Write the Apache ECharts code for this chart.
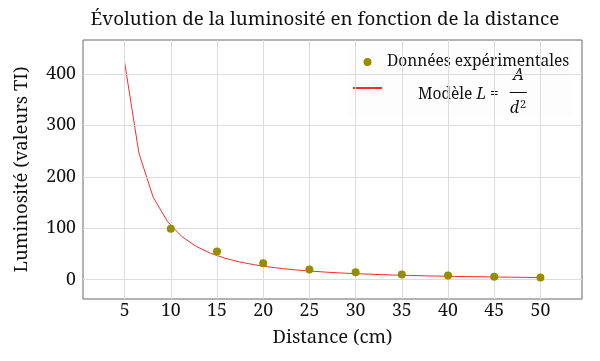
<!DOCTYPE html>
<html>
<head>
<meta charset="utf-8">
<script src="https://cdn.jsdelivr.net/npm/echarts@6/dist/echarts.min.js"></script>
<style>html,body{margin:0;padding:0;background:#fff;}#c{width:600px;height:361px;}</style>
</head>
<body>
<div id="c"></div>
<script>
// Experimental data
const distances = [10, 15, 20, 25, 30, 35, 40, 45, 50];
const luminosite = [99, 55, 32, 20, 14.5, 10, 8, 5.5, 4];
// Model curve samples
const modelX = [5, 6.55, 8.10, 9.66, 11.21, 12.76, 14.31, 15.86, 17.41, 18.97, 20.52, 22.07, 23.62, 25.17, 26.72, 28.28, 29.83, 31.38, 32.93, 34.48, 36.03, 37.59, 39.14, 40.69, 42.24, 43.79, 45.34, 46.90, 48.45, 50];
const modelY = [423, 246, 160, 112.6, 83.6, 64.5, 51.3, 41.7, 34.6, 29.2, 24.9, 21.6, 18.8, 16.6, 14.7, 13.1, 11.8, 10.7, 9.7, 8.8, 8.1, 7.4, 6.9, 6.3, 5.9, 5.5, 5.1, 4.8, 4.5, 4.2];
const xTicks = [5, 10, 15, 20, 25, 30, 35, 40, 45, 50];
const yTicks = [0, 100, 200, 300, 400];

const FONT = '"Noto Serif", "DejaVu Serif", serif';
const TXT = '#111';
const LF = 15.5;
const chart = echarts.init(document.getElementById('c'), null, {renderer: 'canvas'});
const nameData = 'Données expérimentales';
const nameModel = 'Modèle';
const GRID = '#dcdcdc';

chart.setOption({
  animation: false,
  textStyle: {fontFamily: FONT, color: TXT},
  title: {
    text: 'Évolution de la luminosité en fonction de la distance',
    left: 320, top: 5, textAlign: 'center',
    textStyle: {fontFamily: FONT, fontSize: 18.8, fontWeight: 'normal', color: TXT}
  },
  grid: {left: 83, top: 40, width: 499, height: 259, show: true, borderColor: '#666', borderWidth: 1, backgroundColor: 'transparent'},
  legend: {
    orient: 'vertical', left: 348, top: 48,
    padding: [4, 2, 0, 4], itemGap: -8,
    backgroundColor: 'rgba(253,253,253,0.96)',
    itemWidth: 29, itemHeight: 8,
    data: [
      {name: nameData, icon: 'circle'},
      {name: nameModel, itemStyle: {opacity: 0, borderWidth: 0}}
    ],
    textStyle: {
      fontFamily: FONT, fontSize: LF, color: TXT, lineHeight: 20,
      rich: {
        sp: {width: 31, fontSize: LF, fontFamily: FONT, lineHeight: 1},
        g: {width: 11, fontSize: LF, fontFamily: FONT, lineHeight: 1},
        h: {fontSize: LF, fontFamily: FONT, color: 'rgba(0,0,0,0)', lineHeight: 1},
        hi: {fontSize: LF, fontFamily: FONT, fontStyle: 'italic', color: 'rgba(0,0,0,0)', lineHeight: 1},
        n: {fontSize: LF + 0.5, fontFamily: FONT, fontStyle: 'italic', color: TXT, lineHeight: 22, padding: [0, 0, 0, 3]},
        t: {fontSize: LF, fontFamily: FONT, color: TXT, lineHeight: 18},
        i: {fontSize: LF, fontFamily: FONT, fontStyle: 'italic', color: TXT, lineHeight: 18},
        bar: {fontSize: 17, fontFamily: FONT, color: '#000', lineHeight: 1, padding: [0, 0, 6, 0]},
        d: {fontSize: LF + 0.5, fontFamily: FONT, fontStyle: 'italic', color: TXT, lineHeight: 8},
        s: {fontSize: 11, fontFamily: FONT, color: TXT, lineHeight: 2, padding: [0, 0, 6, 1]}
      }
    },
    formatter: function (name) {
      if (name === nameModel) {
        return '{sp|}{h|Modèle }{hi|L}{h| =}{g|}{n|A}\n' +
               '{sp|}{t|Modèle }{i|L}{t| =}{g|}{bar|—}\n' +
               '{sp|}{h|Modèle }{hi|L}{h| =}{g|}{d|d}{s|2}';
      }
      return name;
    }
  },
  xAxis: {
    type: 'value', min: 0.5, max: 54.5,
    name: 'Distance (cm)', nameLocation: 'middle', nameGap: 29,
    nameTextStyle: {fontFamily: FONT, fontSize: 18.5, color: TXT},
    axisLine: {show: false},
    axisTick: {show: false},
    axisLabel: {
      fontFamily: FONT, fontSize: 17.7, color: TXT, margin: 3,
      customValues: xTicks
    },
    splitLine: {show: false}
  },
  yAxis: {
    type: 'value', min: -37.6, max: 466,
    name: 'Luminosité (valeurs TI)', nameLocation: 'middle', nameGap: 52, nameRotate: 90,
    nameTextStyle: {fontFamily: FONT, fontSize: 18.5, color: TXT},
    axisLine: {show: false},
    axisTick: {show: false},
    axisLabel: {
      fontFamily: FONT, fontSize: 17.7, color: TXT, margin: 7,
      customValues: yTicks
    },
    splitLine: {show: false}
  },
  series: [
    {
      name: 'grid lines', type: 'line', silent: true, symbol: 'none', data: [], z: 1,
      markLine: {
        silent: true, symbol: 'none', label: {show: false}, animation: false,
        lineStyle: {color: GRID, width: 1, type: 'solid'},
        data: yTicks.map(v => ({yAxis: v})).concat(xTicks.map(v => ({xAxis: v})))
      }
    },
    {
      name: nameData, type: 'scatter', z: 5,
      symbol: 'circle', symbolSize: 8,
      itemStyle: {color: '#958d00', opacity: 1},
      data: distances.map((d, i) => [d, luminosite[i]])
    },
    {
      name: nameModel, type: 'line', z: 3,
      symbol: 'none', smooth: false,
      lineStyle: {color: '#ff2a2a', width: 1},
      itemStyle: {color: '#ff2a2a'},
      data: modelX.map((d, i) => [d, modelY[i]])
    }
  ]
});
</script>
</body>
</html>
